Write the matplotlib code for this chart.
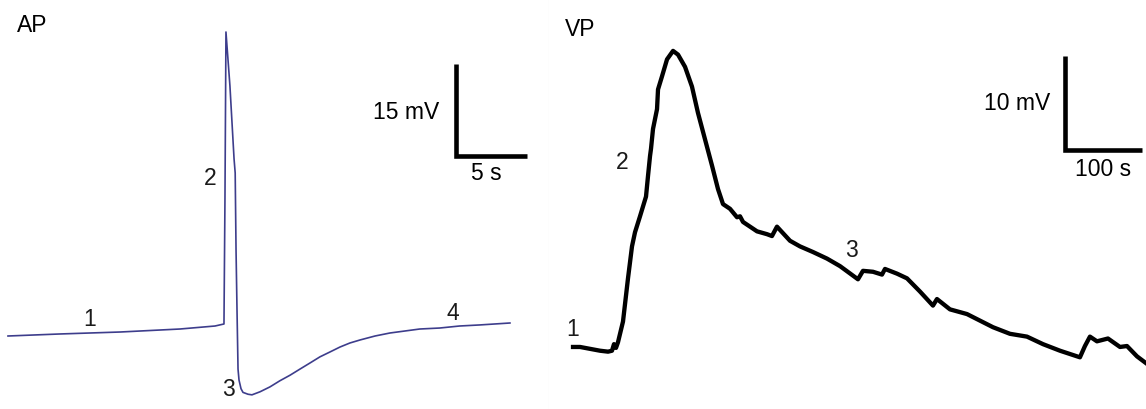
import matplotlib
matplotlib.use('Agg')
import matplotlib.pyplot as plt

plt.rcParams['font.family'] = ['Liberation Sans', 'DejaVu Sans']

# AP: время (с) и потенциал (мВ, относительно покоя)
ap_t = [0.0, 3.66, 7.89, 12.11, 14.58, 15.21, 15.28, 15.35, 15.63, 15.92, 16.0,
        16.06, 16.13, 16.2, 16.27, 16.41, 16.55, 16.9, 17.18, 17.75, 18.45,
        19.15, 19.86, 20.56, 21.27, 21.97, 22.68, 23.38, 24.08, 24.79, 25.85,
        26.9, 29.0, 30.4, 31.8, 33.2, 35.35]
ap_v = [0.0, 0.33, 0.65, 1.14, 1.63, 1.96, 22.35, 49.6, 40.8, 28.9, 26.6,
        14.0, 4.0, -5.4, -7.2, -8.6, -9.2, -9.5, -9.6, -9.1, -8.3,
        -7.3, -6.4, -5.4, -4.4, -3.4, -2.6, -1.8, -1.14, -0.65, 0.0,
        0.49, 1.14, 1.3, 1.63, 1.8, 2.12]
ap_marks = ['1', '2', '3', '4']
ap_mark_t = [5.77, 14.23, 15.56, 31.3]
ap_mark_v = [2.9, 25.9, -8.6, 3.8]

# VP: время (с) и потенциал (мВ)
vp_t = [0.0, 9.1, 22.1, 35.1, 45.5, 50.6, 53.2, 55.8, 58.4, 64.9, 71.4, 76.6,
        80.5, 87.0, 94.8, 97.4, 100.0, 101.3, 103.9, 109.1, 110.4, 115.6, 122.1,
        129.9, 136.4, 145.5, 154.5, 162.3, 171.4, 180.5, 188.3, 194.8, 203.9,
        213.0, 216.9, 220.8, 229.9, 239.0, 251.9, 258.4, 264.9, 281.8, 294.8,
        311.7, 329.9, 346.8, 370.1, 376.6, 389.6, 401.3, 405.2, 420.8, 433.8,
        450.6, 467.5, 472.7, 489.6, 511.7, 528.6, 545.5, 567.5, 589.6, 610.4,
        632.5, 658.4, 664.9, 671.4, 680.5, 694.8, 710.4, 719.5, 732.5, 745.5]
vp_v = [0.0, 0.0, -0.2, -0.4, -0.5, -0.4, 0.3, -0.1, 0.5, 2.7, 7.3, 10.7,
        12.2, 13.9, 16.0, 18.2, 20.3, 21.1, 23.2, 25.3, 27.4, 28.8, 30.6,
        31.5, 31.1, 29.8, 27.7, 24.9, 22.1, 19.3, 16.8, 15.2, 14.7,
        13.8, 13.9, 13.3, 12.8, 12.3, 12.0, 11.8, 12.8, 11.3, 10.7,
        10.1, 9.4, 8.6, 7.2, 8.1, 8.0, 7.7, 8.3, 7.8, 7.3,
        5.9, 4.4, 5.1, 4.0, 3.5, 2.8, 2.1, 1.4, 1.1, 0.3,
        -0.4, -1.1, 0.1, 1.1, 0.6, 0.9, 0.0, 0.1, -1.0, -1.8]
vp_marks = ['1', '2', '3']
vp_mark_t = [0.0, 63.6, 362.3]
vp_mark_v = [2.0, 19.7, 10.4]

fs = 16.5

fig = plt.figure(figsize=(11.46, 4.10), dpi=100)
ax1 = fig.add_axes([0, 0, 549 / 1146, 1])
ax2 = fig.add_axes([549 / 1146, 0, 1 - 549 / 1146, 1])

# --- AP ---
ax1.plot(ap_t, ap_v, color='#3d3d8c', lw=1.2)
for m, t, v in zip(ap_marks, ap_mark_t, ap_mark_v):
    ax1.text(t, v, m, fontsize=fs, ha='center', va='center', color='#1a1a1a')
ax1.text(17 / 549, 1 - 26 / 410, 'AP', transform=ax1.transAxes, fontsize=fs,
         ha='left', va='center')
# масштабная линейка 15 мВ / 5 с
ax1.plot([31.55, 31.55, 36.55], [44.4, 29.4, 29.4], color='black', lw=3.3,
         solid_joinstyle='miter', solid_capstyle='butt')
ax1.text(30.4, 36.7, '15 mV', fontsize=fs, ha='right', va='center')
ax1.text(33.7, 26.6, '5 s', fontsize=fs, ha='center', va='center')
ax1.set_xlim(-0.563, 38.1)
ax1.set_ylim(-11.91, 54.98)

# --- VP ---
ax2.plot(vp_t, vp_v, color='black', lw=3.1, solid_joinstyle='round')
for m, t, v in zip(vp_marks, vp_mark_t, vp_mark_v):
    ax2.text(t, v, m, fontsize=fs, ha='center', va='center', color='#1a1a1a')
ax2.text(16 / 597, 1 - 29 / 410, 'VP', transform=ax2.transAxes, fontsize=fs,
         ha='left', va='center')
# масштабная линейка 10 мВ / 100 с
ax2.plot([639.0, 639.0, 739.0], [31.0, 21.0, 21.0], color='black', lw=3.3,
         solid_joinstyle='miter', solid_capstyle='butt')
ax2.text(619.5, 26.0, '10 mV', fontsize=fs, ha='right', va='center')
ax2.text(688.0, 19.0, '100 s', fontsize=fs, ha='center', va='center')
ax2.set_xlim(-31.2, 744.2)
ax2.set_ylim(-6.6, 37.02)

for ax in (ax1, ax2):
    ax.set_xticks([])
    ax.set_yticks([])
    for s in ax.spines.values():
        s.set_visible(False)
ax1.spines['right'].set_visible(True)
ax1.spines['right'].set_color('#ececec')

fig.savefig('out.png', dpi=100)
